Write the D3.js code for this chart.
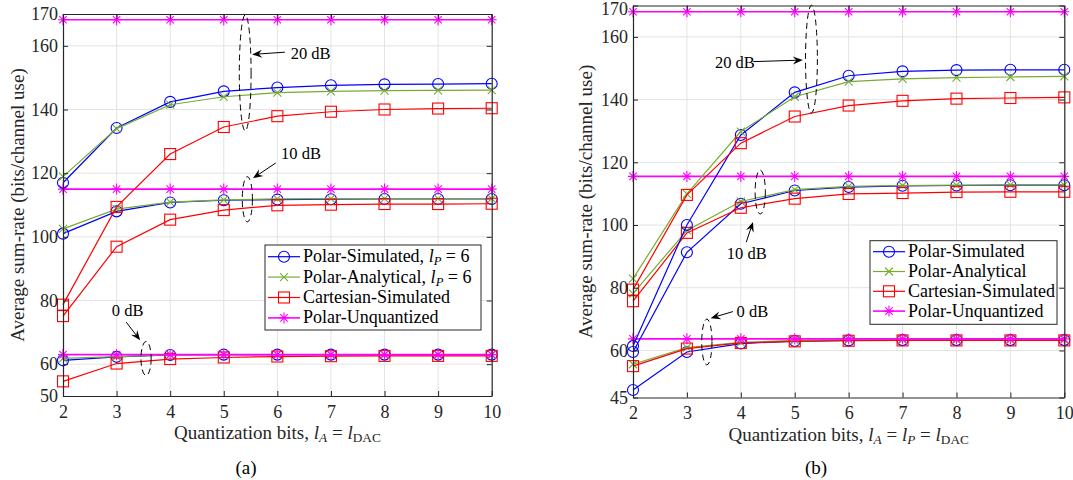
<!DOCTYPE html>
<html>
<head>
<meta charset="utf-8">
<script src="https://cdn.jsdelivr.net/npm/d3@7/dist/d3.min.js"></script>
<style>
  body { margin: 0; background: #fff; }
  svg { font-family: "Liberation Serif", "Times New Roman", serif; }
</style>
</head>
<body>
<svg id="fig" width="1073" height="480"></svg>
<script>
const bits = [2, 3, 4, 5, 6, 7, 8, 9, 10]

// rows are SNR = 0 dB, 10 dB, 20 dB
const aPolarSim = [
  [61.2, 62.3, 62.9, 63.0, 63.0, 63.0, 63.0, 63.0, 63.0],
  [101.0, 108.0, 110.8, 111.5, 111.7, 111.8, 111.9, 111.9, 111.9],
  [117.0, 134.2, 142.4, 145.7, 146.9, 147.6, 147.9, 148.0, 148.1]
]
const aPolarAna = [
  [61.8, 62.4, 62.9, 63.0, 63.0, 63.0, 63.0, 63.0, 63.0],
  [102.5, 108.7, 110.9, 111.6, 111.9, 112.0, 112.0, 112.0, 112.0],
  [118.9, 134.0, 141.5, 144.0, 145.3, 145.7, 145.9, 146.0, 146.1]
]
const aCart = [
  [54.6, 60.2, 61.6, 62.1, 62.4, 62.5, 62.6, 62.6, 62.6],
  [75.1, 96.9, 105.4, 108.4, 109.9, 110.1, 110.3, 110.3, 110.4],
  [78.7, 109.4, 126.0, 134.5, 137.9, 139.3, 140.0, 140.3, 140.4]
]
const aUnq = [
  [63.0, 63.0, 63.0, 63.0, 63.0, 63.0, 63.0, 63.0, 63.0],
  [115.0, 115.0, 115.0, 115.0, 115.0, 115.0, 115.0, 115.0, 115.0],
  [168.2, 168.2, 168.2, 168.2, 168.2, 168.2, 168.2, 168.2, 168.2]
]

const bPolarSim = [
  [47.4, 59.5, 62.2, 63.0, 63.2, 63.3, 63.3, 63.3, 63.3],
  [59.5, 91.3, 106.8, 111.0, 112.1, 112.5, 112.6, 112.7, 112.7],
  [61.4, 100.0, 128.7, 142.3, 147.6, 149.0, 149.4, 149.5, 149.5]
]
const bPolarAna = [
  [55.6, 60.9, 62.6, 63.2, 63.4, 63.4, 63.4, 63.4, 63.4],
  [78.1, 98.3, 107.5, 111.3, 112.3, 112.6, 112.7, 112.8, 112.8],
  [82.9, 109.9, 129.8, 140.9, 145.7, 146.6, 147.0, 147.2, 147.4]
]
const bCart = [
  [55.0, 60.6, 62.4, 62.9, 63.1, 63.2, 63.2, 63.2, 63.2],
  [75.7, 97.5, 105.5, 108.4, 109.9, 110.2, 110.5, 110.6, 110.6],
  [79.4, 109.6, 126.1, 134.6, 138.1, 139.6, 140.3, 140.5, 140.7]
]
const bUnq = [
  [63.7, 63.7, 63.7, 63.7, 63.7, 63.7, 63.7, 63.7, 63.7],
  [115.5, 115.5, 115.5, 115.5, 115.5, 115.5, 115.5, 115.5, 115.5],
  [168.0, 168.0, 168.0, 168.0, 168.0, 168.0, 168.0, 168.0, 168.0]
]

const aYTicks = [50, 60, 80, 100, 120, 140, 160, 170]
const bYTicks = [45, 60, 80, 100, 120, 140, 160, 170]

const aLegend = [
  [{ t: 'Polar-Simulated, ' }, { t: 'l', i: 1 }, { t: 'P', i: 1, s: 1 }, { t: ' = 6' }],
  [{ t: 'Polar-Analytical, ' }, { t: 'l', i: 1 }, { t: 'P', i: 1, s: 1 }, { t: ' = 6' }],
  [{ t: 'Cartesian-Simulated' }],
  [{ t: 'Polar-Unquantized' }]
]
const bLegend = [
  [{ t: 'Polar-Simulated' }],
  [{ t: 'Polar-Analytical' }],
  [{ t: 'Cartesian-Simulated' }],
  [{ t: 'Polar-Unquantized' }]
]

// SNR callouts, in data units: ellipse (cx, cy, rx, ry), label start, arrow tail -> head
const aNotes = [
  { label: '20 dB', ell: [5.40, 151.5, 0.11, 18.2], text: [6.25, 155.8], arrow: [6.14, 158.0, 5.53, 157.3] },
  { label: '10 dB', ell: [5.44, 111.8, 0.095, 7.1], text: [6.07, 124.4], arrow: [5.97, 123.2, 5.545, 118.4] },
  { label: '0 dB', ell: [3.55, 61.8, 0.095, 5.35], text: [2.91, 75.0], arrow: [3.18, 73.2, 3.44, 67.5] }
]
const bNotes = [
  { label: '20 dB', ell: [5.31, 152.9, 0.11, 17.2], text: [3.52, 150.1], arrow: [4.23, 152.1, 5.15, 152.6] },
  { label: '10 dB', ell: [4.36, 110.5, 0.095, 7.0], text: [3.74, 89.2], arrow: [4.10, 94.5, 4.226, 101.0] },
  { label: '0 dB', ell: [3.37, 62.7, 0.095, 7.3], text: [3.92, 70.7], arrow: [3.855, 72.4, 3.44, 70.3] }
]

const styles = [
  { color: '#0000ff', marker: 'circle', width: 1.2 },
  { color: '#77ac30', marker: 'cross', width: 1.2 },
  { color: '#ff0000', marker: 'square', width: 1.2 },
  { color: '#ff00ff', marker: 'star', width: 1.6 }
]

const axisColor = '#262626'
const labelSize = 19
const legendSize = 18
const svg = d3.select('#fig')

function drawMarker (g, type, color) {
  if (type === 'circle') {
    g.append('circle').attr('r', 5.5)
  } else if (type === 'square') {
    g.append('rect').attr('x', -5.5).attr('y', -5.5).attr('width', 11).attr('height', 11)
  } else if (type === 'cross') {
    g.append('path').attr('d', 'M-4,-4L4,4M-4,4L4,-4')
  } else {
    g.append('path').attr('d', 'M-5,0H5M0,-5.5V5.5M-3.7,-3.7L3.7,3.7M-3.7,3.7L3.7,-3.7')
  }
  g.selectAll('*').attr('fill', 'none').attr('stroke', color).attr('stroke-width', 1.1)
}

function texText (sel, parts) {
  parts.forEach((p, k) => {
    const prev = k > 0 && parts[k - 1].s
    const ts = sel.append('tspan').text(p.t)
    if (p.i) ts.attr('font-style', 'italic')
    if (p.s) ts.attr('font-size', '0.7em').attr('dy', 3)
    if (prev && !p.s) ts.attr('dy', -3)
  })
}

function drawPanel (p) {
  const x = d3.scaleLinear().domain([2, 10]).range([p.left, p.right])
  const y = d3.scaleLinear().domain(p.yDomain).range([p.bottom, p.top])
  const g = svg.append('g')

  // grid
  g.append('g').selectAll('line').data(bits.slice(1, -1)).join('line')
    .attr('x1', d => x(d)).attr('x2', d => x(d))
    .attr('y1', p.top).attr('y2', p.bottom)
    .attr('stroke', '#e3e3e3')
  g.append('g').selectAll('line').data(p.yTicks.slice(1, -1)).join('line')
    .attr('x1', p.left).attr('x2', p.right)
    .attr('y1', d => y(d)).attr('y2', d => y(d))
    .attr('stroke', '#e3e3e3')

  // series, one SNR group at a time
  const line = d3.line().x((d, i) => x(bits[i])).y(d => y(d))
  for (let s = 0; s < 3; s++) {
    p.series.forEach((rows, k) => {
      const st = styles[k]
      g.append('path').datum(rows[s])
        .attr('d', line)
        .attr('fill', 'none')
        .attr('stroke', st.color)
        .attr('stroke-width', st.width)
      g.append('g').selectAll('g').data(rows[s]).join('g')
        .attr('transform', (d, i) => `translate(${x(bits[i])},${y(d)})`)
        .each(function () { drawMarker(d3.select(this), st.marker, st.color) })
    })
  }

  // axes with inward ticks
  const fmt = d3.format('d')
  const bottom = g.append('g').attr('transform', `translate(0,${p.bottom})`)
    .call(d3.axisBottom(x).tickValues(bits).tickFormat(fmt).tickSizeInner(-5).tickSizeOuter(0).tickPadding(9))
  const left = g.append('g').attr('transform', `translate(${p.left},0)`)
    .call(d3.axisLeft(y).tickValues(p.yTicks).tickFormat(fmt).tickSizeInner(-5).tickSizeOuter(0).tickPadding(5))
  const top = g.append('g').attr('transform', `translate(0,${p.top})`)
    .call(d3.axisTop(x).tickValues(bits).tickFormat('').tickSizeInner(-5).tickSizeOuter(0))
  const right = g.append('g').attr('transform', `translate(${p.right},0)`)
    .call(d3.axisRight(y).tickValues(p.yTicks).tickFormat('').tickSizeInner(-5).tickSizeOuter(0))
  ;[bottom, left, top, right].forEach(a => {
    a.select('.domain').attr('stroke', axisColor).attr('stroke-width', 1.2)
    a.selectAll('.tick line').attr('stroke', axisColor)
    a.selectAll('.tick text').attr('fill', axisColor)
      .attr('font-family', '"Liberation Serif", "Times New Roman", serif')
      .attr('font-size', 18)
  })
  // keep the top label inside the picture
  left.selectAll('.tick').filter(d => y(d) < 9).select('text').attr('dy', '0.5em')

  // axis titles
  const xt = g.append('text')
    .attr('x', (p.left + p.right) / 2).attr('y', p.xTitleY)
    .attr('text-anchor', 'middle').attr('font-size', labelSize).attr('fill', axisColor)
  texText(xt, p.xTitle)
  g.append('text')
    .attr('transform', `translate(${p.yTitleX},${(p.top + p.bottom) / 2}) rotate(-90)`)
    .attr('text-anchor', 'middle').attr('font-size', labelSize).attr('fill', axisColor)
    .text('Average sum-rate (bits/channel use)')
  g.append('text')
    .attr('x', p.capX).attr('y', 474)
    .attr('text-anchor', 'middle').attr('font-size', labelSize).attr('fill', '#000')
    .text(p.caption)

  // callouts
  p.notes.forEach(n => {
    const [cx, cy, rx, ry] = n.ell
    g.append('ellipse')
      .attr('cx', x(cx)).attr('cy', y(cy))
      .attr('rx', x(cx + rx) - x(cx)).attr('ry', y(cy - ry) - y(cy))
      .attr('fill', 'none').attr('stroke', '#000').attr('stroke-width', 1)
      .attr('stroke-dasharray', '6,4')
    const [x1, y1, x2, y2] = n.arrow
    const ax = x(x1); const ay = y(y1); const bx = x(x2); const by = y(y2)
    const ang = Math.atan2(by - ay, bx - ax)
    const ca = Math.cos(ang); const sa = Math.sin(ang)
    const pt = (l, w) => [bx - l * ca - w * sa, by - l * sa + w * ca]
    g.append('line')
      .attr('x1', ax).attr('y1', ay).attr('x2', pt(5, 0)[0]).attr('y2', pt(5, 0)[1])
      .attr('stroke', '#000').attr('stroke-width', 1)
    g.append('path')
      .attr('d', 'M' + [[bx, by], pt(10, 4), pt(6.5, 0), pt(10, -4)].map(q => q.join(',')).join('L') + 'Z')
      .attr('fill', '#000')
    g.append('text')
      .attr('x', x(n.text[0])).attr('y', y(n.text[1]))
      .attr('font-size', 16.5).attr('fill', '#000')
      .text(n.label)
  })

  // legend
  const lg = g.append('g')
  const [lx, ly, lw, lh] = p.legendBox
  lg.append('rect').attr('x', lx).attr('y', ly).attr('width', lw).attr('height', lh)
    .attr('fill', '#fff').attr('stroke', axisColor).attr('stroke-width', 1)
  p.legend.forEach((parts, k) => {
    const st = styles[k]
    const cy = p.legendRow0 + k * p.legendStep
    lg.append('line')
      .attr('x1', lx + 3).attr('x2', lx + 35).attr('y1', cy).attr('y2', cy)
      .attr('stroke', st.color).attr('stroke-width', st.width)
    drawMarker(lg.append('g').attr('transform', `translate(${lx + 19},${cy})`), st.marker, st.color)
    const t = lg.append('text').attr('x', lx + 38).attr('y', cy + 5.5)
      .attr('font-size', legendSize).attr('fill', '#000')
    texText(t, parts)
  })
}

drawPanel({
  left: 63, right: 491.7, top: 14, bottom: 396,
  yDomain: [50, 170], yTicks: aYTicks,
  series: [aPolarSim, aPolarAna, aCart, aUnq],
  notes: aNotes,
  legend: aLegend, legendBox: [265, 245, 216, 85], legendRow0: 256.7, legendStep: 20.4,
  xTitle: [{ t: 'Quantization bits, ' }, { t: 'l', i: 1 }, { t: 'A', i: 1, s: 1 }, { t: ' = ' }, { t: 'l', i: 1 }, { t: 'DAC', s: 1 }],
  xTitleY: 439, yTitleX: 24, capX: 246, caption: '(a)'
})

drawPanel({
  left: 633, right: 1064.3, top: 5.5, bottom: 397.5,
  yDomain: [45, 170], yTicks: bYTicks,
  series: [bPolarSim, bPolarAna, bCart, bUnq],
  notes: bNotes,
  legend: bLegend, legendBox: [870, 240.7, 187, 83.6], legendRow0: 251.7, legendStep: 19.8,
  xTitle: [{ t: 'Quantization bits, ' }, { t: 'l', i: 1 }, { t: 'A', i: 1, s: 1 }, { t: ' = ' }, { t: 'l', i: 1 }, { t: 'P', i: 1, s: 1 }, { t: ' = ' }, { t: 'l', i: 1 }, { t: 'DAC', s: 1 }],
  xTitleY: 441, yTitleX: 592, capX: 816, caption: '(b)'
})
</script>
</body>
</html>
